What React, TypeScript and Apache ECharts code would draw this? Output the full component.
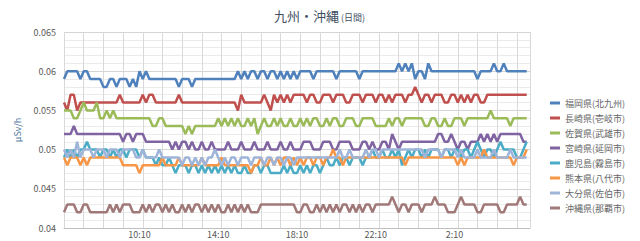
import React, { useEffect, useRef } from "react";
import * as echarts from "echarts";

const FONT = "'Noto Sans CJK JP', 'Noto Sans', sans-serif";

// time categories, 10-minute steps starting 6:20
const startMinutes = 6 * 60 + 20;
const categoryCount = 143;
const categories: string[] = [];
for (let i = 0; i < categoryCount; i++) {
  const m = (startMinutes + i * 10) % (24 * 60);
  categories.push(`${Math.floor(m / 60)}:${String(m % 60).padStart(2, "0")}`);
}

const seriesNames = [
  "福岡県(北九州)",
  "長崎県(壱岐市)",
  "佐賀県(武雄市)",
  "宮崎県(延岡市)",
  "鹿児島(霧島市)",
  "熊本県(八代市)",
  "大分県(佐伯市)",
  "沖縄県(那覇市)",
];

const seriesColors = ["#4F81BD", "#C0504D", "#9BBB59", "#8064A2", "#4BACC6", "#F79646", "#9FB4D9", "#A07878"];

const fukuoka = [
  0.059, 0.060, 0.060, 0.060, 0.060, 0.059, 0.060, 0.060, 0.059, 0.059,
  0.059, 0.059, 0.058, 0.058, 0.059, 0.059, 0.058, 0.059, 0.059, 0.059,
  0.058, 0.059, 0.058, 0.060, 0.059, 0.060, 0.059, 0.059, 0.059, 0.059,
  0.059, 0.059, 0.059, 0.059, 0.059, 0.058, 0.059, 0.059, 0.059, 0.058,
  0.059, 0.059, 0.059, 0.059, 0.059, 0.059, 0.059, 0.059, 0.059, 0.059,
  0.059, 0.059, 0.059, 0.060, 0.059, 0.060, 0.059, 0.060, 0.060, 0.059,
  0.060, 0.060, 0.059, 0.060, 0.060, 0.059, 0.060, 0.059, 0.060, 0.059,
  0.060, 0.059, 0.060, 0.060, 0.060, 0.060, 0.059, 0.060, 0.060, 0.060,
  0.060, 0.060, 0.060, 0.059, 0.060, 0.060, 0.060, 0.060, 0.060, 0.060,
  0.059, 0.060, 0.060, 0.060, 0.060, 0.060, 0.060, 0.060, 0.060, 0.060,
  0.060, 0.060, 0.061, 0.060, 0.061, 0.060, 0.061, 0.059, 0.060, 0.060,
  0.059, 0.061, 0.060, 0.060, 0.060, 0.060, 0.060, 0.060, 0.060, 0.060,
  0.060, 0.060, 0.060, 0.060, 0.060, 0.060, 0.059, 0.060, 0.060, 0.060,
  0.060, 0.061, 0.060, 0.060, 0.061, 0.060, 0.060, 0.060, 0.060, 0.060,
  0.060, 0.060,
];

const nagasaki = [
  0.056, 0.055, 0.057, 0.057, 0.055, 0.056, 0.056, 0.056, 0.056, 0.056,
  0.056, 0.056, 0.056, 0.056, 0.056, 0.056, 0.056, 0.057, 0.056, 0.056,
  0.056, 0.056, 0.056, 0.056, 0.057, 0.056, 0.057, 0.057, 0.056, 0.056,
  0.056, 0.056, 0.056, 0.056, 0.056, 0.057, 0.056, 0.056, 0.056, 0.056,
  0.056, 0.056, 0.056, 0.056, 0.056, 0.056, 0.056, 0.056, 0.056, 0.056,
  0.056, 0.056, 0.056, 0.055, 0.057, 0.056, 0.056, 0.056, 0.056, 0.056,
  0.056, 0.057, 0.056, 0.055, 0.057, 0.056, 0.057, 0.056, 0.057, 0.056,
  0.057, 0.057, 0.057, 0.057, 0.056, 0.057, 0.057, 0.056, 0.056, 0.057,
  0.057, 0.057, 0.056, 0.057, 0.057, 0.057, 0.056, 0.056, 0.057, 0.057,
  0.057, 0.056, 0.057, 0.057, 0.057, 0.056, 0.057, 0.057, 0.056, 0.057,
  0.056, 0.057, 0.057, 0.057, 0.056, 0.057, 0.057, 0.058, 0.057, 0.056,
  0.057, 0.057, 0.056, 0.057, 0.057, 0.057, 0.056, 0.056, 0.057, 0.057,
  0.056, 0.057, 0.056, 0.057, 0.056, 0.057, 0.057, 0.056, 0.056, 0.057,
  0.057, 0.057, 0.057, 0.057, 0.057, 0.057, 0.057, 0.057, 0.057, 0.057,
  0.057, 0.057,
];

const saga = [
  0.055, 0.055, 0.055, 0.054, 0.054, 0.055, 0.056, 0.055, 0.055, 0.055,
  0.056, 0.054, 0.054, 0.055, 0.054, 0.055, 0.054, 0.054, 0.054, 0.054,
  0.054, 0.054, 0.054, 0.054, 0.054, 0.054, 0.054, 0.053, 0.053, 0.054,
  0.054, 0.053, 0.053, 0.053, 0.053, 0.053, 0.053, 0.052, 0.053, 0.052,
  0.053, 0.053, 0.053, 0.053, 0.053, 0.053, 0.053, 0.054, 0.053, 0.054,
  0.053, 0.054, 0.053, 0.054, 0.053, 0.053, 0.054, 0.053, 0.054, 0.052,
  0.053, 0.054, 0.053, 0.053, 0.054, 0.053, 0.054, 0.053, 0.053, 0.054,
  0.053, 0.053, 0.054, 0.053, 0.054, 0.053, 0.054, 0.054, 0.053, 0.053,
  0.054, 0.053, 0.054, 0.054, 0.053, 0.053, 0.054, 0.054, 0.054, 0.053,
  0.053, 0.054, 0.054, 0.054, 0.054, 0.053, 0.053, 0.053, 0.053, 0.054,
  0.053, 0.054, 0.054, 0.053, 0.054, 0.054, 0.054, 0.054, 0.054, 0.054,
  0.053, 0.053, 0.054, 0.054, 0.053, 0.053, 0.054, 0.053, 0.053, 0.054,
  0.054, 0.054, 0.053, 0.054, 0.054, 0.054, 0.054, 0.054, 0.054, 0.054,
  0.055, 0.054, 0.054, 0.054, 0.054, 0.054, 0.053, 0.054, 0.054, 0.054,
  0.054, 0.054,
];

const miyazaki = [
  0.052, 0.052, 0.052, 0.053, 0.052, 0.052, 0.052, 0.052, 0.052, 0.052,
  0.052, 0.052, 0.052, 0.052, 0.052, 0.052, 0.052, 0.052, 0.051, 0.052,
  0.052, 0.051, 0.052, 0.052, 0.052, 0.051, 0.051, 0.051, 0.051, 0.051,
  0.051, 0.051, 0.051, 0.050, 0.051, 0.050, 0.051, 0.051, 0.050, 0.051,
  0.050, 0.050, 0.051, 0.050, 0.050, 0.051, 0.050, 0.050, 0.050, 0.050,
  0.051, 0.050, 0.050, 0.050, 0.051, 0.050, 0.050, 0.050, 0.051, 0.050,
  0.050, 0.050, 0.051, 0.050, 0.050, 0.050, 0.051, 0.050, 0.050, 0.051,
  0.050, 0.050, 0.050, 0.051, 0.051, 0.051, 0.050, 0.050, 0.050, 0.051,
  0.051, 0.051, 0.050, 0.050, 0.051, 0.051, 0.051, 0.051, 0.050, 0.050,
  0.050, 0.051, 0.051, 0.050, 0.051, 0.050, 0.050, 0.051, 0.051, 0.050,
  0.052, 0.051, 0.050, 0.051, 0.051, 0.051, 0.051, 0.051, 0.051, 0.051,
  0.051, 0.051, 0.051, 0.051, 0.052, 0.052, 0.051, 0.051, 0.052, 0.051,
  0.050, 0.051, 0.051, 0.050, 0.051, 0.051, 0.051, 0.052, 0.051, 0.052,
  0.051, 0.052, 0.051, 0.052, 0.052, 0.052, 0.052, 0.052, 0.052, 0.052,
  0.051, 0.051,
];

const kagoshima = [
  0.049, 0.050, 0.049, 0.050, 0.049, 0.050, 0.050, 0.051, 0.050, 0.050,
  0.050, 0.049, 0.050, 0.050, 0.049, 0.050, 0.049, 0.050, 0.050, 0.049,
  0.050, 0.050, 0.050, 0.049, 0.050, 0.049, 0.049, 0.049, 0.048, 0.049,
  0.048, 0.048, 0.049, 0.048, 0.047, 0.048, 0.048, 0.048, 0.047, 0.048,
  0.048, 0.047, 0.048, 0.047, 0.048, 0.047, 0.048, 0.047, 0.048, 0.047,
  0.048, 0.047, 0.048, 0.047, 0.047, 0.048, 0.047, 0.047, 0.048, 0.048,
  0.047, 0.048, 0.048, 0.047, 0.047, 0.047, 0.047, 0.048, 0.047, 0.048,
  0.047, 0.047, 0.048, 0.047, 0.048, 0.047, 0.048, 0.048, 0.047, 0.048,
  0.049, 0.048, 0.048, 0.049, 0.048, 0.049, 0.049, 0.048, 0.049, 0.049,
  0.049, 0.048, 0.049, 0.049, 0.050, 0.049, 0.049, 0.050, 0.049, 0.049,
  0.050, 0.049, 0.050, 0.048, 0.049, 0.050, 0.049, 0.050, 0.050, 0.049,
  0.050, 0.049, 0.050, 0.050, 0.050, 0.049, 0.050, 0.050, 0.049, 0.050,
  0.050, 0.049, 0.050, 0.050, 0.049, 0.050, 0.051, 0.050, 0.049, 0.050,
  0.050, 0.049, 0.050, 0.051, 0.050, 0.050, 0.050, 0.050, 0.049, 0.049,
  0.050, 0.051,
];

const kumamoto = [
  0.049, 0.048, 0.049, 0.049, 0.049, 0.048, 0.049, 0.048, 0.049, 0.049,
  0.049, 0.049, 0.049, 0.049, 0.049, 0.049, 0.049, 0.049, 0.048, 0.048,
  0.048, 0.048, 0.048, 0.047, 0.048, 0.048, 0.048, 0.048, 0.048, 0.048,
  0.049, 0.048, 0.048, 0.048, 0.048, 0.049, 0.048, 0.048, 0.048, 0.048,
  0.048, 0.048, 0.049, 0.048, 0.048, 0.048, 0.048, 0.048, 0.049, 0.048,
  0.048, 0.048, 0.048, 0.048, 0.048, 0.048, 0.048, 0.047, 0.048, 0.048,
  0.049, 0.048, 0.048, 0.049, 0.048, 0.049, 0.048, 0.049, 0.049, 0.048,
  0.049, 0.048, 0.049, 0.048, 0.049, 0.049, 0.048, 0.049, 0.049, 0.048,
  0.049, 0.049, 0.050, 0.049, 0.049, 0.048, 0.049, 0.049, 0.049, 0.049,
  0.049, 0.049, 0.049, 0.049, 0.049, 0.049, 0.049, 0.049, 0.049, 0.049,
  0.049, 0.049, 0.049, 0.049, 0.048, 0.049, 0.049, 0.049, 0.049, 0.049,
  0.049, 0.049, 0.049, 0.049, 0.049, 0.049, 0.049, 0.049, 0.049, 0.049,
  0.048, 0.049, 0.048, 0.049, 0.049, 0.049, 0.049, 0.049, 0.050, 0.049,
  0.049, 0.049, 0.049, 0.049, 0.049, 0.049, 0.049, 0.048, 0.049, 0.049,
  0.049, 0.050,
];

const oita = [
  0.050, 0.049, 0.050, 0.049, 0.051, 0.049, 0.050, 0.050, 0.050, 0.049,
  0.050, 0.050, 0.050, 0.049, 0.050, 0.050, 0.050, 0.049, 0.050, 0.050,
  0.050, 0.050, 0.049, 0.049, 0.050, 0.049, 0.049, 0.049, 0.049, 0.050,
  0.049, 0.049, 0.049, 0.049, 0.049, 0.049, 0.048, 0.049, 0.049, 0.048,
  0.049, 0.048, 0.049, 0.048, 0.049, 0.049, 0.050, 0.049, 0.048, 0.049,
  0.048, 0.049, 0.049, 0.048, 0.049, 0.049, 0.049, 0.048, 0.049, 0.049,
  0.049, 0.048, 0.049, 0.049, 0.048, 0.049, 0.049, 0.048, 0.049, 0.049,
  0.048, 0.049, 0.049, 0.049, 0.049, 0.049, 0.049, 0.049, 0.049, 0.049,
  0.049, 0.049, 0.049, 0.049, 0.050, 0.049, 0.049, 0.050, 0.049, 0.049,
  0.049, 0.049, 0.050, 0.049, 0.050, 0.050, 0.049, 0.050, 0.050, 0.050,
  0.050, 0.050, 0.050, 0.050, 0.050, 0.050, 0.050, 0.050, 0.050, 0.050,
  0.049, 0.050, 0.050, 0.050, 0.050, 0.049, 0.050, 0.050, 0.050, 0.050,
  0.049, 0.050, 0.049, 0.049, 0.049, 0.049, 0.050, 0.049, 0.049, 0.049,
  0.049, 0.050, 0.049, 0.049, 0.049, 0.049, 0.050, 0.049, 0.049, 0.049,
  0.049, 0.049,
];

const okinawa = [
  0.042, 0.043, 0.043, 0.043, 0.042, 0.042, 0.043, 0.043, 0.042, 0.042,
  0.042, 0.042, 0.042, 0.042, 0.043, 0.042, 0.043, 0.042, 0.043, 0.043,
  0.043, 0.042, 0.042, 0.042, 0.043, 0.042, 0.043, 0.042, 0.043, 0.043,
  0.042, 0.043, 0.042, 0.043, 0.042, 0.042, 0.043, 0.042, 0.043, 0.042,
  0.043, 0.043, 0.042, 0.043, 0.042, 0.043, 0.042, 0.043, 0.042, 0.042,
  0.043, 0.042, 0.043, 0.042, 0.043, 0.042, 0.043, 0.042, 0.042, 0.042,
  0.043, 0.043, 0.043, 0.043, 0.043, 0.043, 0.043, 0.043, 0.043, 0.043,
  0.043, 0.042, 0.042, 0.043, 0.043, 0.042, 0.042, 0.043, 0.042, 0.043,
  0.042, 0.043, 0.042, 0.043, 0.042, 0.043, 0.043, 0.042, 0.043, 0.042,
  0.043, 0.042, 0.043, 0.043, 0.042, 0.043, 0.043, 0.043, 0.043, 0.043,
  0.044, 0.043, 0.042, 0.043, 0.043, 0.042, 0.043, 0.043, 0.043, 0.042,
  0.043, 0.043, 0.043, 0.044, 0.043, 0.043, 0.043, 0.042, 0.042, 0.042,
  0.043, 0.044, 0.043, 0.043, 0.043, 0.043, 0.042, 0.042, 0.043, 0.043,
  0.043, 0.043, 0.043, 0.042, 0.042, 0.043, 0.043, 0.043, 0.043, 0.044,
  0.043, 0.043,
];

const seriesData = [fukuoka, nagasaki, saga, miyazaki, kagoshima, kumamoto, oita, okinawa];

export default function App() {
  const ref = useRef<HTMLDivElement>(null);

  useEffect(() => {
    if (!ref.current) return;
    const chart = echarts.init(ref.current, undefined, { renderer: "svg" });
    chart.setOption({
      animation: false,
      backgroundColor: "#ffffff",
      textStyle: { fontFamily: FONT },
      title: {
        text: "{a|九州・沖縄}{b| (日間)}",
        left: 269,
        top: 4,
        textStyle: {
          rich: {
            a: { fontSize: 13, fontWeight: "normal", color: "#3f4f63", fontFamily: FONT },
            b: { fontSize: 9, fontWeight: "normal", color: "#3f4f63", fontFamily: FONT, padding: [3, 0, 0, 0] },
          },
        },
      },
      legend: {
        orient: "vertical",
        left: 545,
        top: 93,
        icon: "rect",
        itemWidth: 10,
        itemHeight: 3,
        itemGap: 5,
        textStyle: { fontSize: 9, color: "#666666", lineHeight: 10, fontFamily: FONT },
        data: seriesNames,
      },
      grid: { left: 64, right: 110, top: 32, bottom: 13, containLabel: false },
      xAxis: {
        type: "category",
        data: categories,
        boundaryGap: false,
        axisLine: { show: true, lineStyle: { color: "#bfbfbf", width: 1 } },
        axisTick: { show: false },
        axisLabel: {
          interval: (i: number) => i % 24 === 23,
          color: "#595959",
          fontSize: 9,
          lineHeight: 9,
          margin: 2,
          fontFamily: FONT,
        },
        splitLine: {
          show: true,
          interval: (i: number) => i % 6 === 0 || i === categoryCount - 1,
          lineStyle: { color: "#d9d9d9", width: 1 },
        },
      },
      yAxis: {
        type: "value",
        min: 0.04,
        max: 0.065,
        interval: 0.005,
        name: "μSv/h",
        nameLocation: "middle",
        nameGap: 42,
        nameTextStyle: { color: "#5b7fa6", fontSize: 9, fontFamily: FONT },
        axisLine: { show: false },
        axisTick: { show: false },
        axisLabel: {
          color: "#595959",
          fontSize: 9,
          margin: 8,
          fontFamily: FONT,
          formatter: (v: number) => String(Number(v.toFixed(3))),
        },
        splitLine: { show: true, lineStyle: { color: "#d4d4d4", width: 1 } },
        minorTick: { show: false, splitNumber: 5 },
        minorSplitLine: { show: true, lineStyle: { color: "#ebebeb", width: 1 } },
      },
      series: seriesNames.map((name, k) => ({
        name,
        type: "line",
        data: seriesData[k],
        showSymbol: false,
        symbol: "none",
        color: seriesColors[k],
        lineStyle: { width: 2.5, color: seriesColors[k] },
      })),
    });
    return () => chart.dispose();
  }, []);

  return (
    <div
      ref={ref}
      style={{ position: "fixed", left: 0, top: 0, width: 640, height: 241, background: "#fff" }}
    />
  );
}
